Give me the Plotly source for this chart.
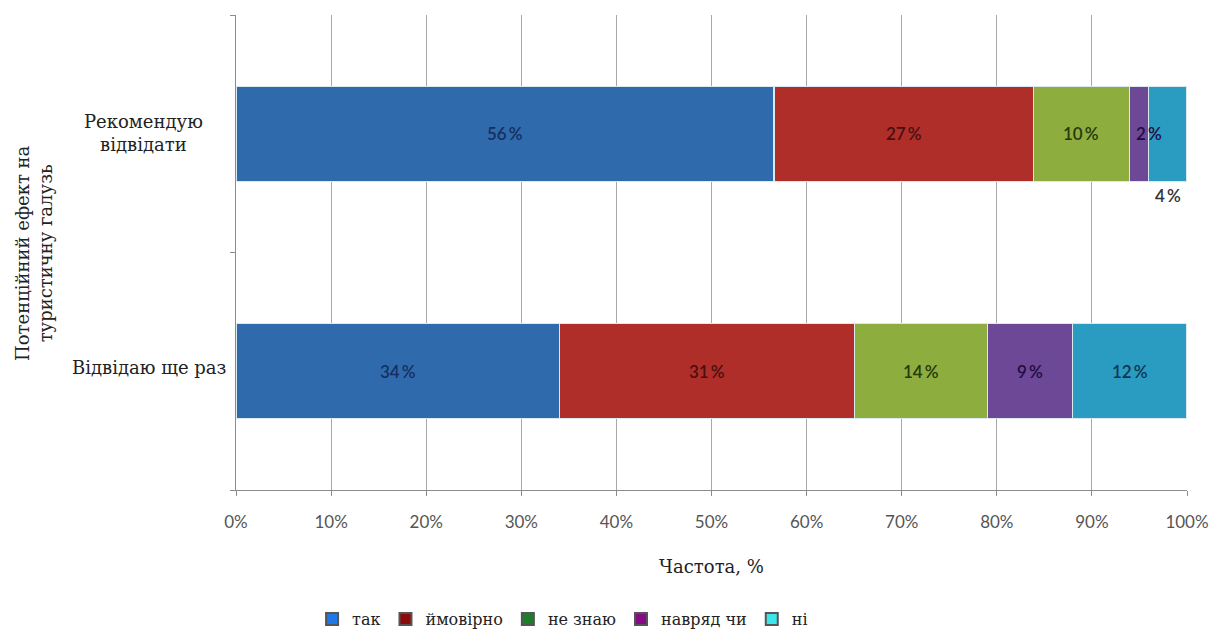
import plotly.graph_objects as go

# Survey answers by statement (shares in percent)
categories = ["Відвідаю ще раз", "Рекомендую відвідати"]
answers = ["так", "ймовірно", "не знаю", "навряд чи", "ні"]
values = {
    "так":       [34, 56],
    "ймовірно":  [31, 27],
    "не знаю":   [14, 10],
    "навряд чи": [9, 2],
    "ні":        [12, 4],
}
x_ticks = [0, 10, 20, 30, 40, 50, 60, 70, 80, 90, 100]
x_tick_labels = [f"{t}%" for t in x_ticks]

bar_colors = ["#2f6aad", "#b02e2a", "#8dae3e", "#6c4896", "#2a9cc1"]
label_colors = ["#14305f", "#4a0f0e", "#26380c", "#220c45", "#0e3652"]
legend_colors = ["#1f78e6", "#8b0a0a", "#1e7d2a", "#870a87", "#3de6ea"]

SERIF = "DejaVu Serif"
SANS = "Lato"

fig = go.Figure()

for i, name in enumerate(answers):
    fig.add_trace(go.Bar(
        y=categories, x=values[name], name=name, orientation="h",
        marker=dict(color=bar_colors[i], line=dict(color="#dbe9ef", width=1.2)),
        width=0.4, showlegend=False, hoverinfo="skip",
    ))

# legend-only square markers
for i, name in enumerate(answers):
    fig.add_trace(go.Scatter(
        x=[None], y=[None], mode="markers", name=name,
        marker=dict(symbol="square", size=9, color=legend_colors[i],
                    line=dict(color="#555555", width=0.8)),
    ))

# value labels placed at the centre of each normalised segment
totals = [sum(values[a][j] for a in answers) for j in range(len(categories))]
for j, cat in enumerate(categories):
    start = 0.0
    for i, name in enumerate(answers):
        v = values[name][j]
        seg = 100.0 * v / totals[j]
        end = start + seg
        xpos, yshift, col = (start + end) / 2, 0, label_colors[i]
        if seg < 3:
            xpos = end  # narrow slice: label straddles the next boundary
        if j == 1 and name == "ні":
            yshift, col = -62, "#333333"
        fig.add_annotation(
            x=xpos, y=cat, text=f"{v}\u2009%", showarrow=False, yshift=yshift,
            font=dict(family=SANS, size=17, color=col, weight=600),
        )
        start = end

# category labels
fig.add_annotation(xref="paper", yref="y", x=-0.097, y=categories[1],
                   text="Рекомендую<br>відвідати", showarrow=False,
                   xanchor="center", align="center", yshift=1,
                   font=dict(family=SERIF, size=18, color="#222222"))
fig.add_annotation(xref="paper", yref="y", x=-0.0085, y=categories[0],
                   text="Відвідаю ще раз", showarrow=False,
                   xanchor="right", align="right", yshift=4,
                   font=dict(family=SERIF, size=18, color="#222222"))

fig.update_layout(
    barmode="stack", barnorm="percent",
    width=1222, height=630,
    margin=dict(l=236, r=35, t=15, b=140, autoexpand=False),
    plot_bgcolor="white", paper_bgcolor="white",
    xaxis=dict(
        range=[0, 100], tickvals=x_ticks, ticktext=x_tick_labels,
        showgrid=True, gridcolor="#a8a8a8", gridwidth=1,
        showline=True, linecolor="#8c8c8c", linewidth=1,
        ticks="outside", ticklen=5, tickcolor="#8c8c8c",
        tickfont=dict(family=SANS, size=17, color="#555555"),
        ticklabelstandoff=12, zeroline=False, automargin=False,
        title=dict(text="Частота, %", standoff=28,
                   font=dict(family=SERIF, size=18, color="#222222")),
    ),
    yaxis=dict(
        type="category", categoryorder="array", categoryarray=categories,
        range=[-0.5, 1.5], showticklabels=False, showgrid=False,
        showline=True, linecolor="#8c8c8c", linewidth=1,
        ticks="outside", ticklen=5, tickcolor="#8c8c8c", tickson="boundaries",
        zeroline=False, automargin=False,
    ),
    legend=dict(
        orientation="h", x=0.08, y=-0.272, xanchor="left", yanchor="middle",
        traceorder="normal",
        font=dict(family=SERIF, size=16, color="#222222"),
        itemwidth=30, tracegroupgap=0, itemsizing="constant",
    ),
)

# rotated axis title in two lines
fig.add_annotation(xref="paper", yref="paper", x=-0.213, y=0.5,
                   text="Потенційний ефект на<br>туристичну галузь",
                   textangle=-90, showarrow=False, xanchor="center",
                   align="center",
                   font=dict(family=SERIF, size=18, color="#222222"))

fig.write_html("out.html")
